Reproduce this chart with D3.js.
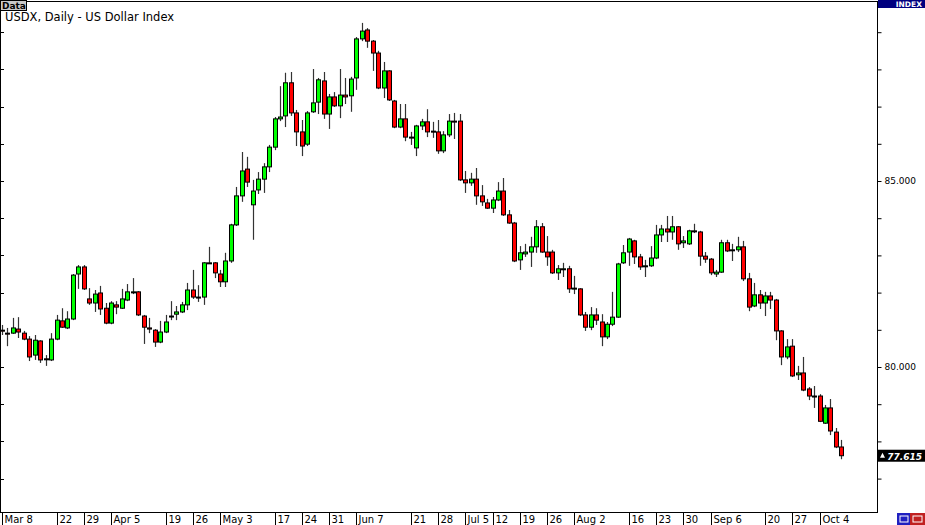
<!DOCTYPE html>
<html><head><meta charset="utf-8">
<script src="https://cdn.jsdelivr.net/npm/d3@7"></script>
<style>body{margin:0;background:#fff}svg{display:block}text{font-family:"DejaVu Sans",Verdana,sans-serif}</style>
</head><body><svg id="c" width="925" height="525"></svg>
<script>
const opens=[80.99,80.91,80.91,81.02,80.91,80.75,80.32,80.70,80.22,80.19,80.75,81.24,81.05,81.29,82.50,82.69,81.83,81.72,81.99,81.58,81.18,81.67,81.58,81.80,82.02,82.02,81.37,81.05,80.99,80.67,80.94,81.37,81.42,81.48,81.67,82.07,81.88,81.88,82.80,82.80,82.50,82.29,82.85,83.82,84.60,85.32,84.36,84.76,85.05,85.38,85.91,86.67,86.75,87.64,86.83,86.32,85.99,86.86,87.12,87.69,86.80,87.26,87.02,87.31,87.29,87.77,88.82,89.06,88.76,88.44,87.50,87.96,87.15,86.45,86.67,86.18,85.89,86.48,86.59,86.34,86.32,85.81,86.24,86.61,86.61,85.03,84.95,85.05,84.60,84.41,84.27,84.49,84.73,84.09,83.87,82.88,83.04,83.09,83.23,83.77,83.09,83.09,82.53,82.64,82.64,82.12,82.10,81.40,81.07,81.40,81.21,80.81,81.15,81.34,82.80,83.09,83.39,82.96,82.72,82.72,82.93,83.55,83.71,83.63,83.77,83.34,83.31,83.66,83.63,82.98,82.90,82.50,82.55,83.34,83.15,83.15,83.23,82.37,81.64,81.94,81.72,81.91,81.80,80.97,80.27,80.56,79.79,79.84,79.41,79.22,79.22,78.49,78.90,78.25,77.85];
const highs=[81.13,81.05,81.32,81.34,80.97,80.83,80.86,80.72,80.32,80.91,81.40,81.58,81.50,82.50,82.74,82.74,82.12,82.07,82.18,81.72,81.77,81.77,82.10,82.23,82.39,82.04,81.40,81.32,81.02,81.24,81.40,81.77,81.64,81.75,82.26,82.61,82.20,82.82,83.23,82.82,82.61,83.07,83.85,84.84,85.78,85.65,85.03,85.24,85.48,85.97,86.72,87.55,87.91,87.93,86.91,86.64,86.88,88.01,87.77,87.93,87.34,87.39,88.01,87.77,87.80,88.87,89.25,89.11,88.79,88.50,88.20,87.98,87.18,87.07,87.07,86.32,86.51,86.67,86.93,86.59,86.64,86.34,86.80,86.83,86.80,85.27,85.22,85.35,84.89,84.52,84.57,84.97,85.08,84.22,83.90,83.25,83.31,83.50,83.95,83.87,83.52,83.15,82.74,82.80,82.72,82.45,82.12,81.48,81.61,81.58,81.42,81.21,82.02,82.80,83.28,83.47,83.42,83.04,82.88,83.25,83.82,83.82,84.06,84.06,83.79,83.52,83.69,83.85,83.66,83.09,82.93,82.61,83.42,83.42,83.31,83.50,83.39,82.53,82.26,82.07,82.02,82.02,81.83,80.99,80.75,80.75,80.03,80.27,79.46,79.49,79.27,78.98,79.14,78.36,78.04];
const lows=[80.86,80.56,80.89,80.78,80.72,80.16,80.19,80.11,80.03,80.16,80.72,81.05,81.02,81.26,82.10,82.07,81.67,81.48,81.40,81.15,81.15,81.42,81.56,81.77,81.96,81.37,80.62,80.91,80.54,80.64,80.91,81.26,81.26,81.45,81.53,81.83,81.75,81.67,82.77,82.39,82.15,82.15,82.80,83.79,84.44,84.84,83.42,84.65,84.68,85.24,85.83,86.61,86.45,86.75,85.94,85.67,85.94,86.83,86.80,86.67,86.40,86.99,86.69,87.07,86.86,87.45,88.76,88.58,87.96,87.47,87.23,87.15,86.42,86.42,86.07,85.97,85.67,86.37,86.18,86.16,85.73,85.75,86.18,86.13,85.00,84.68,84.87,84.36,84.33,84.25,84.14,84.46,84.06,83.85,82.82,82.61,82.96,82.69,83.07,83.07,82.72,82.50,82.34,82.42,81.99,81.96,81.37,80.97,80.99,81.13,80.56,80.75,81.10,81.32,82.77,82.72,82.77,82.61,82.42,82.69,82.90,83.36,83.36,83.42,83.15,83.20,83.28,83.60,82.72,82.80,82.47,82.42,82.53,83.09,82.85,83.09,82.31,81.50,81.61,81.56,81.37,81.56,80.72,80.05,80.21,79.73,79.65,79.35,79.11,78.90,78.52,78.47,78.17,77.82,77.52];
const closes=[80.97,80.89,81.05,80.94,80.75,80.27,80.72,80.19,80.21,80.75,81.26,81.07,81.29,82.47,82.69,82.10,81.72,81.96,81.56,81.18,81.72,81.61,81.83,82.02,82.02,81.40,81.07,81.02,80.67,80.94,81.21,81.37,81.48,81.67,82.07,81.88,81.86,82.80,82.80,82.53,82.29,82.85,83.82,84.60,85.27,84.97,84.73,85.05,85.38,85.91,86.67,86.72,87.64,86.83,86.32,85.94,86.83,87.10,87.72,86.80,87.26,87.02,87.31,87.26,87.74,88.82,89.03,88.76,88.44,87.50,87.96,87.18,86.45,86.67,86.18,86.18,86.48,86.59,86.32,86.32,85.81,86.24,86.61,86.59,85.03,84.95,85.05,84.60,84.44,84.27,84.49,84.73,84.09,83.87,82.85,83.07,83.09,83.23,83.77,83.09,82.96,82.53,82.64,82.64,82.10,82.12,81.40,81.07,81.40,81.26,80.81,81.15,81.34,82.77,83.07,83.44,82.96,82.69,82.72,82.93,83.55,83.71,83.63,83.77,83.31,83.39,83.66,83.66,82.98,82.90,82.53,82.55,83.34,83.12,83.15,83.23,82.37,81.61,81.94,81.72,81.91,81.80,80.97,80.27,80.54,79.76,79.84,79.38,79.22,79.22,78.54,78.90,78.28,77.85,77.615];
const weekLabels=["Mar 8","","22","29","Apr 5","","19","26","May 3","","17","24","31","Jun 7","","21","28","Jul 5","12","19","26","Aug 2","","16","23","30","Sep 6","","20","27","Oct 4"];
const priceTicks=[77,78,79,80,81,82,83,84,85,86,87,88,89];
const priceLabels=[80,85];
const lastPrice="77.615";
const title="USDX, Daily - US Dollar Index";

const svg=d3.select("#c");
const L=0,R=877,T=1,B=512;
const x=d3.scaleLinear().domain([0,154]).range([2,2+154*5.45]);
const y=d3.scaleLinear().domain([80,85]).range([367,181]);
const data=opens.map((o,i)=>({i,o,h:highs[i],l:lows[i],c:closes[i]}));

svg.append("rect").attr("x",L+0.5).attr("y",T+0.5).attr("width",R-L).attr("height",B-T).attr("fill","#fff").attr("stroke","#000");
// right axis ticks
const ya=d3.axisRight(y).tickValues(priceTicks).tickSize(4).tickFormat(d=>priceLabels.includes(d)?d3.format(".3f")(d):"");
const g=svg.append("g").attr("transform",`translate(${R+0.5},0)`).call(ya);
g.select(".domain").remove();
g.selectAll("text").attr("font-size",9).attr("fill","#000").attr("x",7);
svg.append("g").selectAll("line").data(priceTicks).join("line").attr("x1",1).attr("x2",4).attr("y1",d=>Math.round(y(d))+0.5).attr("y2",d=>Math.round(y(d))+0.5).attr("stroke","#000");
// bottom labels
const wk=svg.append("g");
weekLabels.forEach((t,k)=>{ if(!t) return; const xx=Math.round(x(k*5))+0.5;
 wk.append("line").attr("x1",xx).attr("x2",xx).attr("y1",B).attr("y2",525).attr("stroke","#000");
 wk.append("text").attr("x",xx+2).attr("y",523).attr("font-size",10).text(t);});
// candles
const cg=svg.append("g");
cg.selectAll("line").data(data).join("line")
 .attr("x1",d=>Math.round(x(d.i))+0.5).attr("x2",d=>Math.round(x(d.i))+0.5)
 .attr("y1",d=>y(d.h)).attr("y2",d=>y(d.l)).attr("stroke","#333").attr("stroke-width",1.2);
cg.selectAll("rect").data(data).join("rect")
 .attr("x",d=>Math.round(x(d.i))-1.5).attr("width",4)
 .attr("y",d=>y(Math.max(d.o,d.c))).attr("height",d=>Math.max(1,Math.abs(y(d.o)-y(d.c))))
 .attr("fill",d=>d.c>=d.o?"#00ff00":"#ff0000").attr("stroke","#000").attr("stroke-width",1);
// title & tag
svg.append("rect").attr("x",0.5).attr("y",0.5).attr("width",26).attr("height",10).attr("fill","#c8c8c8").attr("stroke","#000");
svg.append("text").attr("x",2).attr("y",9).attr("font-size",9).attr("font-weight","bold").text("Data");
svg.append("text").attr("x",5).attr("y",21).attr("font-size",11.5).text(title);
// INDEX tag
svg.append("rect").attr("x",R+1).attr("y",0).attr("width",925-R-1).attr("height",8).attr("fill","#00007f");
svg.append("text").attr("x",922).attr("y",7).attr("text-anchor","end").attr("font-size",7.5).attr("font-weight","bold").attr("fill","#fff").text("INDEX");
// last price box
const yl=y(+lastPrice);
svg.append("rect").attr("x",R+1).attr("y",yl-6).attr("width",925-R-1).attr("height",12).attr("fill","#000");
svg.append("text").attr("x",922).attr("y",yl+4).attr("text-anchor","end").attr("font-size",9).attr("font-style","italic").attr("font-weight","bold").attr("fill","#fff").text(lastPrice);
svg.append("path").attr("d",`M${R+3},${yl+2}l2.5,-5l2.5,5z`).attr("fill","#fff");
// corner buttons
svg.append("rect").attr("x",897).attr("y",513).attr("width",13).attr("height",12).attr("fill","#2020c0");
svg.append("rect").attr("x",910).attr("y",513).attr("width",15).attr("height",12).attr("fill","#c02020");
svg.append("rect").attr("x",900).attr("y",516).attr("width",8).attr("height",6).attr("fill","none").attr("stroke","#fff");
svg.append("rect").attr("x",913).attr("y",516).attr("width",9).attr("height",6).attr("fill","none").attr("stroke","#fff");
</script></body></html>
